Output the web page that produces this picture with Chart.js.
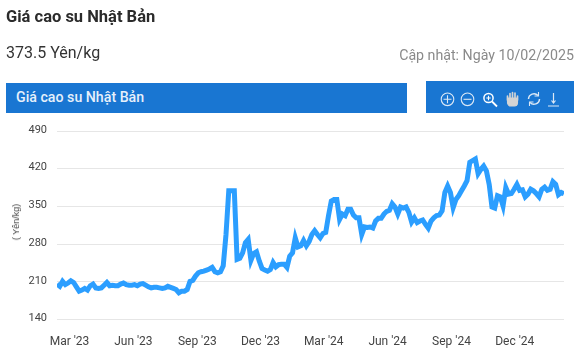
<!DOCTYPE html>
<html lang="vi"><head><meta charset="utf-8">
<style>
html,body{margin:0;padding:0;background:#fff;width:580px;height:357px;overflow:hidden;font-family:Roboto,sans-serif}
#wrap{position:relative;width:580px;height:357px}
canvas{position:absolute;left:0;top:0}
.t{position:absolute;white-space:nowrap}
#title{left:6px;top:8px;font-size:16.5px;font-weight:700;color:#2b2b2b;line-height:18px}
#price{left:6px;top:43px;font-size:16px;color:#333;line-height:20px}
#upd{right:6px;top:46px;font-size:14.2px;color:#8a8a8a;line-height:18px}
#bar{position:absolute;left:6px;top:83px;width:401px;height:30px;background:#1976d2}
#barT{left:16px;top:89px;font-size:14.2px;font-weight:500;color:#e6f0fb;line-height:16px}
#tools{position:absolute;left:426px;top:81px;width:148px;height:32px;background:#1976d2}
#tools svg{position:absolute;left:0;top:0}
#ytitle{left:16px;top:222px;font-size:9px;color:#444;font-family:"Liberation Sans",Arial,sans-serif;transform:translate(-50%,-50%) rotate(-90deg)}
</style></head><body>
<div id="wrap">
<canvas id="c" width="580" height="357"></canvas>
<div class="t" id="title">Giá cao su Nhật Bản</div>
<div class="t" id="price">373.5 Yên/kg</div>
<div class="t" id="upd">Cập nhật: Ngày 10/02/2025</div>
<div class="t" id="ytitle">( Yên/kg)</div>
<div id="bar"></div><div class="t" id="barT">Giá cao su Nhật Bản</div>
<div id="tools"><svg width="148" height="32" fill="none" stroke="#dbe8f6" stroke-width="1.1">
<circle cx="21.500" cy="18.300" r="6.300"/><path d="M17.500 18.300h8M21.500 14.300v8"/>
<circle cx="41.500" cy="18.300" r="6.300"/><path d="M37.500 18.300h8"/>
<circle cx="62.500" cy="17" r="4.600" stroke="#fff" stroke-width="1.500"/><path d="M60.300 17h4.400M62.500 14.800v4.400" stroke="#fff"/><path d="M66 20.500l5 5" stroke="#fff" stroke-width="1.800"/>
<path d="M81.500 19v-4M84 18v-5.500M86.500 18v-6.500M89 18v-6M91.500 19v-4" stroke="#d4d4d4" stroke-width="1.700" stroke-linecap="round"/><path d="M81.500 17h10v5q0 3-3 3h-4q-2 0-3-3z" fill="#d4d4d4" stroke="#d4d4d4"/>
<path d="M102.500 18a5.500 5.500 0 0 1 9.500-3.500M113.500 18a5.500 5.500 0 0 1-9.500 3.500" stroke-width="1.500"/><path d="M112.500 11v4h-4M103.500 25v-4h4" stroke-width="1.100"/>
<path d="M127.500 12v10M125.500 19.500l2 2.500 2-2.500M122 25h11" stroke-width="1.200"/>
</svg></div>
</div>
<script src="https://cdn.jsdelivr.net/npm/chart.js@4"></script>
<script>
const startDate = '2023-02-11';
const endDate = '2025-02-10';
const tickDates = ['2023-03-01','2023-06-01','2023-09-01','2023-12-01','2024-03-01','2024-06-01','2024-09-01','2024-12-01'];
const tickLabels = ["Mar '23","Jun '23","Sep '23","Dec '23","Mar '24","Jun '24","Sep '24","Dec '24"];
const yTicks = [140,210,280,350,420,490];
const seriesName = 'Giá cao su Nhật Bản';
const prices = [
206,202,211,205,208,212,209,201,193,195,198,195,203,206,199,198,199,204,209,203,204,203,203,206,208,205,204,204,205,203,206,207,204,201,199,200,200,199,198,199,202,200,198,196,190,193,193,196,211,213,221,227,
229,230,232,234,237,229,227,229,240,298,379,379,379,252,254,264,283,289,250,263,266,249,235,232,230,233,246,238,242,243,243,237,258,264,292,275,277,287,277,285,298,305,298,292,300,302,333,360,363,363,326,336,333,345,345,334,329,329,298,312,311,312,310,323,328,
328,336,341,343,355,349,336,349,347,349,339,321,329,320,323,325,317,310,323,329,333,334,342,376,388,376,348,363,370,379,388,398,432,435,438,411,419,425,416,391,349,347,370,368,351,385,373,374,382,391,380,381,368,373,382,379,374,368,382,386,380,382,396,391,372,376,373.5
];
const dayOf = s => Math.round((Date.parse(s) - Date.parse(startDate)) / 86400000);
const span = dayOf(endDate);
const points = prices.map((v, i) => ({ x: i * span / (prices.length - 1), y: v }));
const tickDays = tickDates.map(dayOf);
new Chart(document.getElementById('c'), {
  type: 'line',
  data: { datasets: [{ label: seriesName, data: points, borderColor: '#2b9eff', borderWidth: 5, pointRadius: 0, tension: 0, borderJoinStyle: 'miter', borderCapStyle: 'butt' }] },
  options: {
    responsive: false, animation: false,
    layout: { padding: { top: 131, right: 16, left: 0, bottom: 0 } },
    plugins: { legend: { display: false }, tooltip: { enabled: false } },
    scales: {
      x: {
        type: 'linear', min: 0, max: span,
        afterBuildTicks: s => { s.ticks = tickDays.map(v => ({ value: v })); },
        afterFit: s => { s.height = 37.3; },
        grid: { display: false }, border: { display: false },
        ticks: { autoSkip: false, maxRotation: 0, padding: 7, color: '#444', font: { family: 'Roboto', size: 12 },
          callback: v => tickLabels[tickDays.indexOf(v)] }
      },
      y: {
        min: 140, max: 490,
        afterBuildTicks: s => { s.ticks = yTicks.map(v => ({ value: v })); },
        afterFit: s => { s.width = 57; },
        grid: { color: '#e6e6e6', lineWidth: 1, drawTicks: false }, border: { display: false },
        ticks: { padding: 10, color: '#444', labelOffset: -1, font: { family: 'Roboto', size: 11 } }
      }
    }
  }
});
</script>
</body></html>
